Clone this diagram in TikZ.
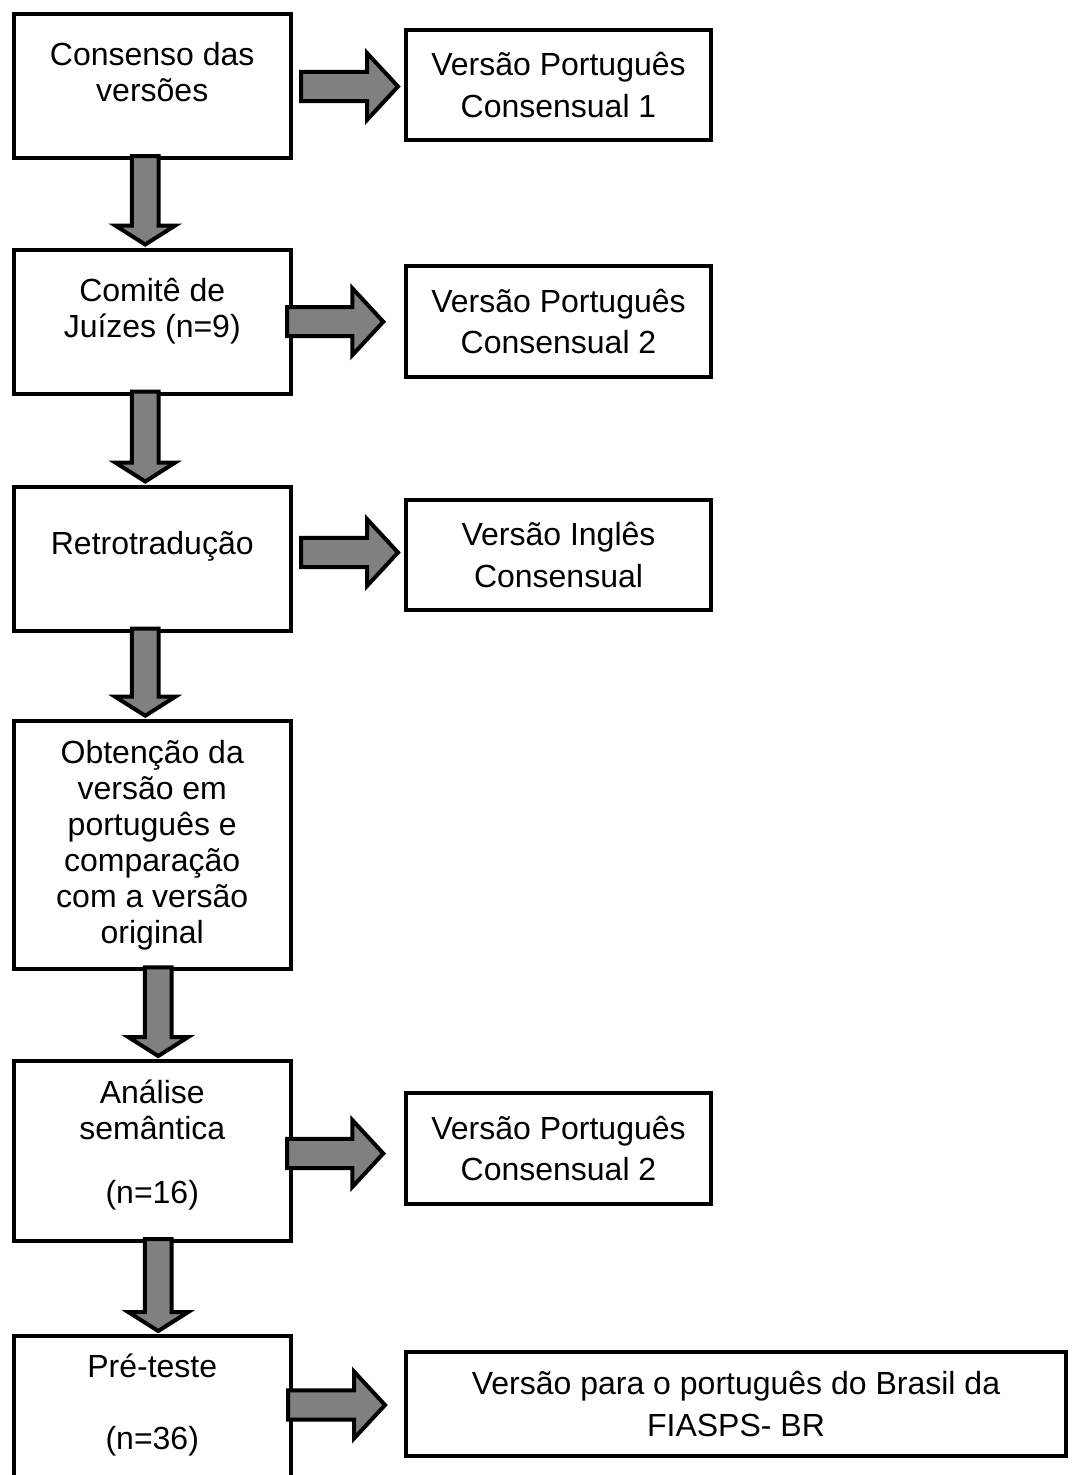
\documentclass[tikz,border=0pt]{standalone}
\usepackage{fontspec}
\setmainfont{Liberation Sans}
\usetikzlibrary{calc}

% block arrows: #1 = start of the shaft, #2 = tip
\newcommand{\blockdown}[2]{%
  \draw[blockarrow] let \p1=#1, \p2=#2 in
    (\x2-10.1pt,\y1) -- (\x2-10.1pt,\y2+14.25pt) -- (\x2-22.5pt,\y2+14.25pt)
    -- (\x2,\y2) -- (\x2+22.5pt,\y2+14.25pt) -- (\x2+10.1pt,\y2+14.25pt)
    -- (\x2+10.1pt,\y1) -- cycle;}
\newcommand{\blockright}[2]{%
  \draw[blockarrow] let \p1=#1, \p2=#2 in
    (\x1,\y2+10.9pt) -- (\x2-23.25pt,\y2+10.9pt) -- (\x2-23.25pt,\y2+25.1pt)
    -- (\x2,\y2) -- (\x2-23.25pt,\y2-25.1pt) -- (\x2-23.25pt,\y2-10.9pt)
    -- (\x1,\y2-10.9pt) -- cycle;}

\begin{document}
\begin{tikzpicture}[x=0.75pt,y=-0.75pt]
    \tikzset{stage/.style={rectangle,draw=black,line width=3pt,minimum width=207.4pt,align=center,font=\fontsize{24pt}{27pt}\selectfont}}
    \tikzset{toptext/.style={text depth=#1}}
    \tikzset{result/.style={rectangle,draw=black,line width=3pt,minimum width=228.75pt,minimum height=83pt,align=center,font=\fontsize{24pt}{31pt}\selectfont}}
    \tikzset{blockarrow/.style={draw=black,fill=black!50,line width=3pt,line join=miter}}
    \fill[white] (0,0) rectangle (1072,1475);
    \path[use as bounding box, clip] (0,0) rectangle (1072,1475);

    % Stages
    \node[stage, toptext=20.5pt, minimum height=108pt] (b1) at (152.25, 86) {Consenso das\\versões};
    \node[stage, toptext=20.5pt, minimum height=108pt] (b2) at (152.25, 321.5) {Comitê de\\Juízes (n=9)};
    \node[stage, toptext=23pt, minimum height=108pt] (b3) at (152.25, 558.5) {Retrotradução};
    \node[stage, minimum height=186.4pt] (b4) at (152.25, 845) {Obtenção da\\versão em\\português e\\comparação\\com a versão\\original};
    \node[stage, text height=98.25pt, text depth=19.5pt, minimum height=135pt] (b5) at (152.25, 1151) {Análise\\semântica\\[21pt](n=16)};
    \node[stage, text height=77.25pt, text depth=42pt, minimum height=135pt] (b6) at (152.25, 1426) {Pré-teste\\[27pt](n=36)};

    % Versions
    \node[result] (r1) at (558.5, 85) {Versão Português\\Consensual 1};
    \node[result] (r2) at (558.5, 321.7) {Versão Português\\Consensual 2};
    \node[result] (r3) at (558.5, 555) {Versão Inglês\\Consensual};
    \node[result] (r5) at (558.5, 1148.5) {Versão Português\\Consensual 2};
    \node[result, minimum width=495pt, minimum height=78pt] (r6) at (736, 1404) {Versão para o português do Brasil da\\FIASPS- BR};

    % Down arrows
    \blockdown{($(b1.south)+(-7,-4)$)}{($(b2.north)+(-7,-3)$)}
    \blockdown{($(b2.south)+(-7,-4)$)}{($(b3.north)+(-7,-3)$)}
    \blockdown{($(b3.south)+(-7,-4)$)}{($(b4.north)+(-7,-3)$)}
    \blockdown{($(b4.south)+(6,-4)$)}{($(b5.north)+(6,-3)$)}
    \blockdown{($(b5.south)+(6,-4)$)}{($(b6.north)+(6,-3)$)}

    % Right arrows
    \blockright{($(b1.east)+(8.5,0)$)}{($(r1.west)+(-6,1.5)$)}
    \blockright{($(b2.east)+(-5.5,0)$)}{($(r2.west)+(-20.7,0)$)}
    \blockright{($(b3.east)+(8.5,0)$)}{($(r3.west)+(-6,-2.5)$)}
    \blockright{($(b5.east)+(-5.5,0)$)}{($(r5.west)+(-20.7,5)$)}
    \blockright{($(b6.east)+(-4.5,0)$)}{($(r6.west)+(-19,1)$)}
\end{tikzpicture}
\end{document}
